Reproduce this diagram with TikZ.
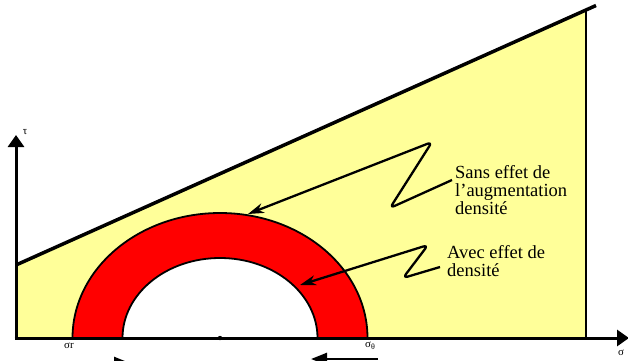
\documentclass[tikz,border=0pt]{standalone}
\usepackage{fontspec}
\setmainfont{Liberation Serif}
\usetikzlibrary{arrows.meta}
\definecolor{paleyellow}{RGB}{255,255,153}
\definecolor{ringred}{RGB}{255,0,0}
\begin{document}
\begin{tikzpicture}[x=1pt,y=-1pt,
  axisline/.style={line width=3pt,-{Triangle[length=12pt,width=16pt]}},
  edgeline/.style={line width=2.5pt},
  ringline/.style={line width=1.8pt},
  squiggle/.style={line width=2.3pt,rounded corners=5pt,-{Stealth[length=16pt,width=10pt,inset=5pt]}},
  bigtext/.style={font=\fontsize{18.5}{17.8}\selectfont,align=left,inner sep=0pt},
  smalltext/.style={font=\fontsize{11}{12}\selectfont,inner sep=0pt},
  bottomarrow/.style={line width=2.5pt,-{Triangle[length=16pt,width=12pt]}}
]
\useasboundingbox (0,0) rectangle (628,360);
\clip (0,0) rectangle (628,360);

% coordinates
\coordinate (o) at (16,338);
\coordinate (lt) at (16,265);
\coordinate (rt) at (586,10);
\coordinate (rb) at (586,338);
\coordinate (te) at (596,5.5);

% yellow region
\fill[paleyellow] (o) -- (lt) -- (rt) -- (rb) -- cycle;
\draw[line width=3.5pt] (lt) -- (te);
\draw[edgeline] (rt) -- (rb);

% ring
\filldraw[fill=ringred,ringline] (72.5,338) arc[start angle=180,end angle=360,x radius=147.5,y radius=125] -- cycle;
\filldraw[fill=white,ringline] (122.5,338) arc[start angle=180,end angle=360,x radius=97.5,y radius=80] -- cycle;

% axes
\coordinate (ytop) at (16,135);
\coordinate (xend) at (629,338);
\draw[axisline] (16,339.5) -- (ytop);
\draw[axisline] (14.5,338) -- (xend);
\fill (220,338) circle (2.2pt);

% labels
\node[smalltext] (tau) at (25,132) {τ};
\node[smalltext] (sigr) at (69,346) {σr};
\node[smalltext] (sigt) at (370,346) {σ{\fontsize{8}{9}\selectfont\raisebox{-2pt}{θ}}};
\node[smalltext] (sig) at (621,353) {σ};

\node[bigtext,anchor=base west] (sans) at (455,214) {Sans effet de\\l’augmentation\\densité};
\node[bigtext,anchor=base west] (avec) at (447,276) {Avec effet de\\densité};

% squiggly arrows
\coordinate (s0) at (452,180);
\coordinate (s1) at (390,208);
\coordinate (s2) at (432,142);
\coordinate (stip) at (248,214);
\draw[squiggle] (s0) -- (s1) -- (s2) -- (stip);

\coordinate (a0) at (440,267);
\coordinate (a1) at (403,278);
\coordinate (a2) at (428,245);
\coordinate (atip) at (300,285);
\draw[squiggle] (a0) -- (a1) -- (a2) -- (atip);

% bottom arrows (partly outside the picture)
\coordinate (bl0) at (50,363);
\coordinate (bl1) at (130,363);
\draw[bottomarrow] (bl0) -- (bl1);
\coordinate (br0) at (378,359);
\coordinate (br1) at (311,359);
\draw[bottomarrow] (br0) -- (br1);
\end{tikzpicture}
\end{document}
